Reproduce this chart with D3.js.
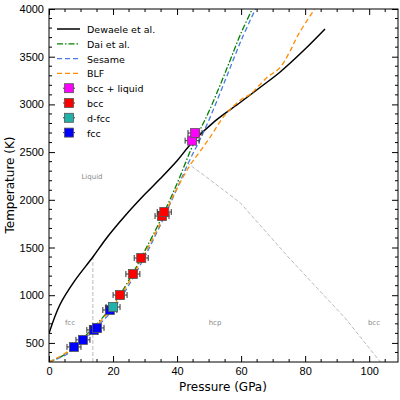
<!DOCTYPE html><html><head><script src="https://cdn.jsdelivr.net/npm/d3@7"></script>
<style>body{margin:0}svg{font-family:"DejaVu Sans",sans-serif}</style></head><body><svg width="400" height="400"></svg><script>
const dewaele=[[0,600],[3.4,900],[8,1150],[13.7,1400],[18,1600],[23.7,1830],[30,2060],[34.7,2220],[40,2410],[44.7,2600],[52,2830],[59.7,3020],[66,3180],[72.2,3340],[80,3580],[86.2,3790]];
const dai=[[0,300],[5,380],[10,530],[15,700],[20,900],[25,1160],[30,1470],[35,1800],[40,2170],[44,2500],[47,2720],[50,2930],[55,3330],[60,3750],[63.5,4000]];
const sesame=[[0,300],[5,370],[10,500],[15,670],[20,850],[25,1110],[30,1410],[35,1750],[40,2120],[44,2420],[47,2620],[50,2840],[55,3250],[60,3670],[64.5,4000]];
const blf=[[0,300],[5,390],[10,520],[15,690],[20,880],[25,1140],[30,1440],[35,1770],[40,2120],[44,2360],[47,2500],[50,2640],[55,2890],[60,3050],[63,3110],[68,3280],[72,3380],[75,3540],[78,3740],[83,4000]];
const phase=[[43,2390],[48.7,2250],[59.7,1970],[75,1390],[92.5,760],[103.5,300]];
const fccP=[7.8,10.6,14,15,19],fccT=[458,532,636,657,845];
const dfccP=[20],dfccT=[876];
const bccP=[22.2,26.2,28.8,35.3,36],bccT=[1002,1222,1390,1830,1872];
const blP=[44.7,45.6],blT=[2620,2700];
const svg=d3.select("svg");
const x=d3.scaleLinear().domain([0,109]).range([49,398]);
const y=d3.scaleLinear().domain([300,4000]).range([362,9]);
const g=svg.append("g");
const line=d3.line().x(d=>x(d[0])).y(d=>y(d[1])).curve(d3.curveCatmullRom);
g.append("defs").append("clipPath").attr("id","c").append("rect").attr("x",49).attr("y",9).attr("width",349).attr("height",353);
const pl=g.append("g").attr("clip-path","url(#c)");
pl.append("line").attr("x1",x(13.7)).attr("x2",x(13.7)).attr("y1",y(300)).attr("y2",y(1400)).attr("stroke","#bbb").attr("stroke-dasharray","4,2");
pl.append("path").attr("d",d3.line().x(d=>x(d[0])).y(d=>y(d[1]))(phase)).attr("fill","none").attr("stroke","#bbb").attr("stroke-dasharray","4,2");
pl.append("path").attr("d",line(dewaele)).attr("fill","none").attr("stroke","black").attr("stroke-width",1.5);
pl.append("path").attr("d",line(dai)).attr("fill","none").attr("stroke","green").attr("stroke-width",1.3).attr("stroke-dasharray","6,2,1.5,2");
pl.append("path").attr("d",line(sesame)).attr("fill","none").attr("stroke","#4a7ae0").attr("stroke-width",1.3).attr("stroke-dasharray","5,3");
pl.append("path").attr("d",line(blf)).attr("fill","none").attr("stroke","darkorange").attr("stroke-width",1.3).attr("stroke-dasharray","5,3");
function pts(P,T,col){P.forEach((p,i)=>{const cx=x(p),cy=y(T[i]);
pl.append("line").attr("x1",cx-7).attr("x2",cx+7).attr("y1",cy).attr("y2",cy).attr("stroke","#333");
[cx-7,cx+7].forEach(e=>pl.append("line").attr("x1",e).attr("x2",e).attr("y1",cy-3).attr("y2",cy+3).attr("stroke","#333"));
pl.append("rect").attr("x",cx-4.5).attr("y",cy-4.5).attr("width",9).attr("height",9).attr("fill",col).attr("stroke","#555").attr("stroke-width",0.8);});}
pts(fccP,fccT,"blue");pts(dfccP,dfccT,"#20b2aa");pts(bccP,bccT,"red");pts(blP,blT,"magenta");
[["Liquid",92,179],["fcc",70,325],["hcp",215,325],["bcc",374,325]].forEach(d=>g.append("text").attr("x",d[1]).attr("y",d[2]).attr("text-anchor","middle").attr("font-size",7).attr("fill","#888").text(d[0]));
g.append("rect").attr("x",49).attr("y",9).attr("width",349).attr("height",353).attr("fill","none").attr("stroke","black");
const xa=g.append("g").attr("transform","translate(0,362)").call(d3.axisBottom(x).tickValues([0,20,40,60,80,100]).tickSizeInner(-6).tickSizeOuter(0).tickPadding(5));
const ya=g.append("g").attr("transform","translate(49,0)").call(d3.axisLeft(y).tickValues([500,1000,1500,2000,2500,3000,3500,4000]).tickFormat(d3.format("d")).tickSizeInner(-6).tickSizeOuter(0).tickPadding(5));
[xa,ya].forEach(a=>{a.select(".domain").remove();a.selectAll("text").attr("font-size",11).attr("fill","black");});
g.append("g").attr("transform","translate(0,9)").call(d3.axisTop(x).tickValues([0,20,40,60,80,100]).tickSizeInner(-6).tickSizeOuter(0).tickFormat("")).select(".domain").remove();
g.append("g").attr("transform","translate(398,0)").call(d3.axisRight(y).tickValues([500,1000,1500,2000,2500,3000,3500,4000]).tickSizeInner(-6).tickSizeOuter(0).tickFormat("")).select(".domain").remove();
const mx=d3.range(5,109,5).filter(v=>v%20),my=d3.range(400,4000,100).filter(v=>v%500);
mx.forEach(v=>{g.append("line").attr("x1",x(v)).attr("x2",x(v)).attr("y1",362).attr("y2",359).attr("stroke","black");g.append("line").attr("x1",x(v)).attr("x2",x(v)).attr("y1",9).attr("y2",12).attr("stroke","black");});
my.forEach(v=>{g.append("line").attr("y1",y(v)).attr("y2",y(v)).attr("x1",49).attr("x2",52).attr("stroke","black");g.append("line").attr("y1",y(v)).attr("y2",y(v)).attr("x1",398).attr("x2",395).attr("stroke","black");});
g.append("text").attr("x",223).attr("y",391).attr("text-anchor","middle").attr("font-size",12).text("Pressure (GPa)");
g.append("text").attr("transform","translate(14,185) rotate(-90)").attr("text-anchor","middle").attr("font-size",12).text("Temperature (K)");
const leg=[["Dewaele et al.","line","black",null],["Dai et al.","line","green","6,2,1.5,2"],["Sesame","line","#4a7ae0","5,3"],["BLF","line","darkorange","5,3"],["bcc + liquid","m","magenta"],["bcc","m","red"],["d-fcc","m","#20b2aa"],["fcc","m","blue"]];
leg.forEach((d,i)=>{const ly=29+i*14.8;
if(d[1]=="line")g.append("line").attr("x1",57).attr("x2",80).attr("y1",ly).attr("y2",ly).attr("stroke",d[2]).attr("stroke-width",d[3]?1.3:1.5).attr("stroke-dasharray",d[3]);
else{g.append("line").attr("x1",63).attr("x2",75).attr("y1",ly).attr("y2",ly).attr("stroke","#333");g.append("rect").attr("x",64.5).attr("y",ly-4.5).attr("width",9).attr("height",9).attr("fill",d[2]).attr("stroke","#555").attr("stroke-width",0.8);}
g.append("text").attr("x",87).attr("y",ly+4).attr("font-size",9.5).text(d[0]);});
</script></body></html>
